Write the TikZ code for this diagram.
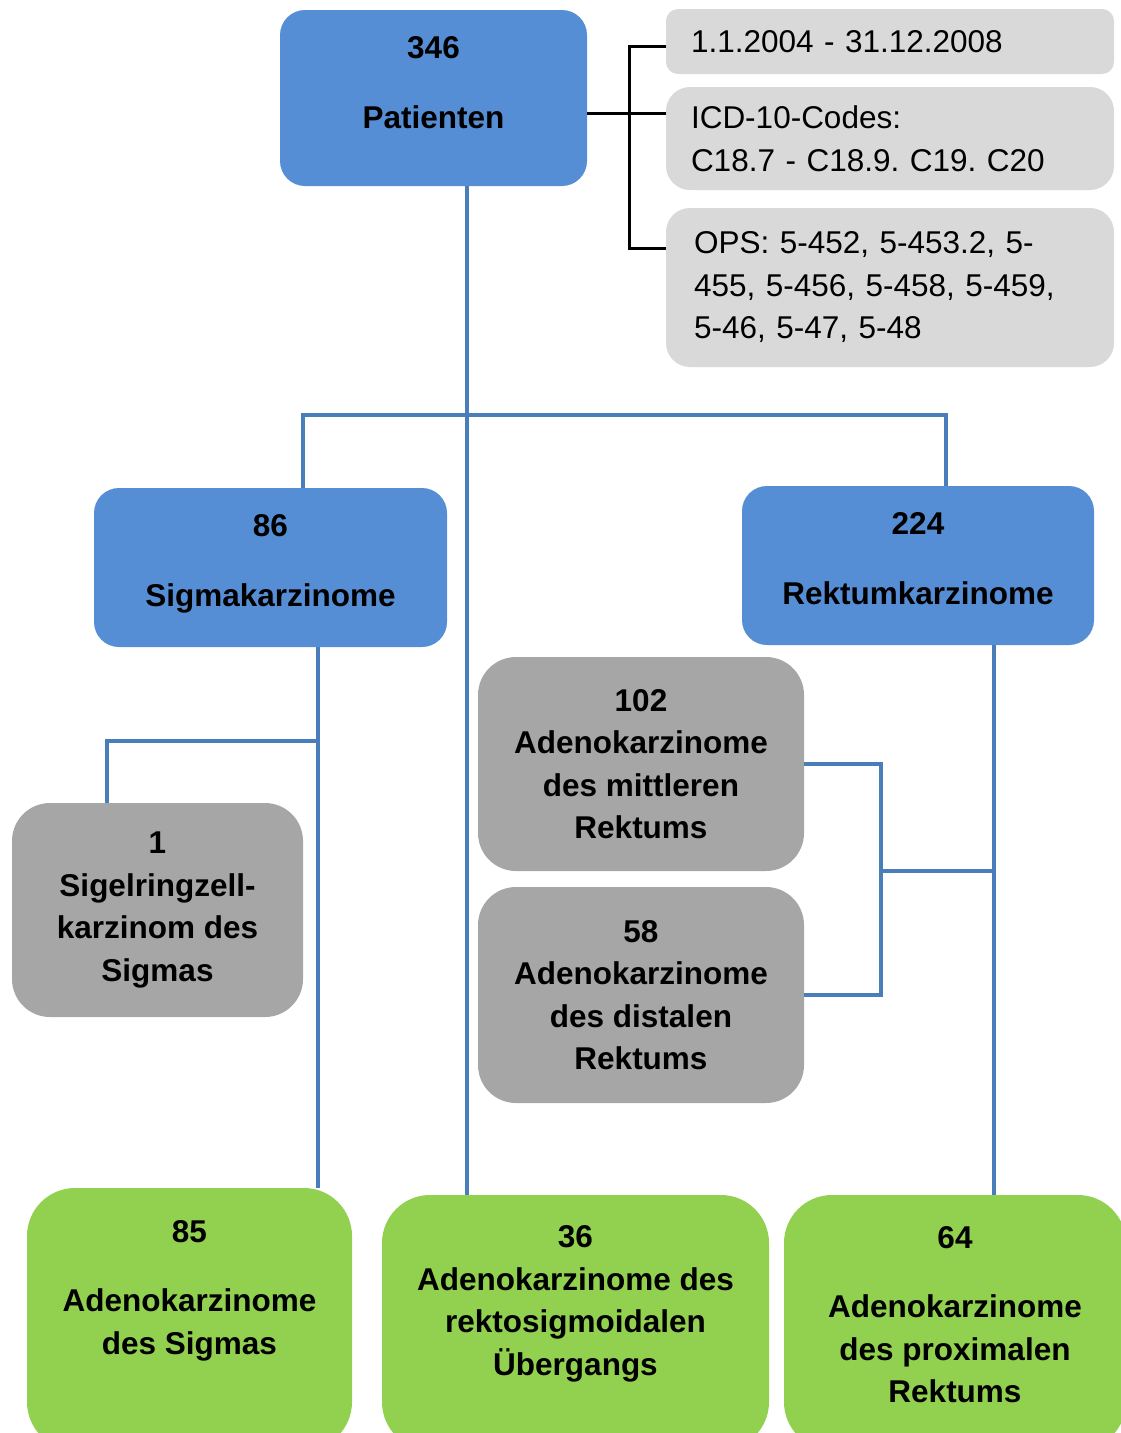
\documentclass[tikz,border=0pt]{standalone}
\usepackage{fontspec}
\setmainfont{Liberation Sans}
\usetikzlibrary{positioning}
\definecolor{boxblue}{HTML}{558ED5}
\definecolor{lineblue}{HTML}{4A7EBB}
\definecolor{infogray}{HTML}{D9D9D9}
\definecolor{stepgray}{HTML}{A6A6A6}
\definecolor{leafgreen}{HTML}{92D050}
\newcommand\chartfont{\fontsize{31.5}{42.5}\selectfont}
\frenchspacing

\begin{document}
\begin{tikzpicture}[
  x=1pt, y=-1pt,
  groupbox/.style={fill=boxblue, rounded corners=25pt, inner sep=0pt},
  infobox/.style={fill=infogray, rounded corners=#1, align=left, font=\chartfont, inner xsep=25pt, inner ysep=0pt, text width=398pt},
  infobox/.default=24pt,
  subbox/.style={fill=stepgray, rounded corners=38pt, align=center, font=\chartfont\bfseries, inner sep=0pt},
  resultbox/.style={fill=leafgreen, rounded corners=48pt, inner sep=0pt},
  count/.style={align=center, font=\chartfont\bfseries, inner sep=0pt},
  link/.style={draw=lineblue, line width=4pt},
  codelink/.style={draw=black, line width=3pt}
]
\useasboundingbox (0,0) rectangle (1121,1433);
\clip (0,0) rectangle (1121,1433);

% Patients and selection criteria
\node[groupbox, minimum width=307pt, minimum height=176pt] (pat) at (433.5,98) {};
\node[count] (patTxt) at (433.5,83) {346\\[27.5pt]Patienten};
\node[infobox=12pt, minimum height=65pt] (period) at (890,41.5) {1.1.2004 - 31.12.2008};
\node[infobox, minimum height=103pt] (icd) at (890,138.5) {ICD-10-Codes:\\C18.7 - C18.9. C19. C20};
\node[infobox, inner xsep=28pt, text width=392pt, minimum height=159pt] (ops) at (890,287.5) {OPS: 5-452, 5-453.2, 5-\\455, 5-456, 5-458, 5-459,\\5-46, 5-47, 5-48};

% Tumour sites
\node[groupbox, minimum width=353pt, minimum height=159pt] (sigma) at (270.5,567.5) {};
\node[count] (sigmaTxt) at (270.5,564) {86\\[27.5pt]Sigmakarzinome};
\node[groupbox, minimum width=352pt, minimum height=159pt] (rekt) at (918,565.5) {};
\node[count] (rektTxt) at (918,559) {224\\[27.5pt]Rektumkarzinome};

\node[subbox, minimum width=291pt, minimum height=214pt] (siegel) at (157.5,910) {1\\Sigelringzell-\\karzinom des\\Sigmas};
\node[subbox, minimum width=326pt, minimum height=214pt] (mid102) at (641,764) {102\\Adenokarzinome\\des mittleren\\Rektums};
\node[subbox, minimum width=326pt, minimum height=216pt] (dist58) at (641,995) {58\\Adenokarzinome\\des distalen\\Rektums};

% Study groups
\node[resultbox, minimum width=325pt, minimum height=262pt] (res85) at (189.5,1319) {};
\node[count] (res85Txt) at (189.5,1291) {85\\[26.5pt]Adenokarzinome\\des Sigmas};
\node[resultbox, minimum width=387pt, minimum height=255pt] (res36) at (575.5,1322.5) {};
\node[count] (res36Txt) at (575.5,1304) {36\\Adenokarzinome des\\rektosigmoidalen\\Übergangs};
\node[resultbox, minimum width=342pt, minimum height=255pt] (res64) at (955,1322.5) {};
\node[count] (res64Txt) at (955,1315) {64\\[26.5pt]Adenokarzinome\\des proximalen\\Rektums};

% Criteria bracket
\coordinate (crit) at (629,113);
\coordinate (critTop) at (629,46);
\coordinate (critBot) at (629,248);
\draw[codelink] (pat.east |- crit) -- (icd.west |- crit);
\draw[codelink] (period.west |- critTop) -- (critTop) -- (critBot) -- (ops.west |- critBot);

% Tree connectors
\coordinate (trunk) at (467,415);
\coordinate (splitL) at (303,415);
\coordinate (splitR) at (946,415);
\draw[link] (pat.south -| trunk) -- (res36.north -| trunk);
\draw[link] (sigma.north -| splitL) -- (splitL) -- (splitR) -- (rekt.north -| splitR);

\coordinate (sigJoin) at (318,741);
\coordinate (sigLeft) at (107,741);
\draw[link] (sigma.south -| sigJoin) -- (res85.north -| sigJoin);
\draw[link] (sigJoin) -- (sigLeft) -- (siegel.north -| sigLeft);

\coordinate (rekJoin) at (994,871);
\coordinate (brace) at (881,871);
\draw[link] (rekt.south -| rekJoin) -- (res64.north -| rekJoin);
\draw[link] (rekJoin) -- (brace);
\draw[link] (mid102.east) -| (brace) |- (dist58.east);
\end{tikzpicture}
\end{document}
